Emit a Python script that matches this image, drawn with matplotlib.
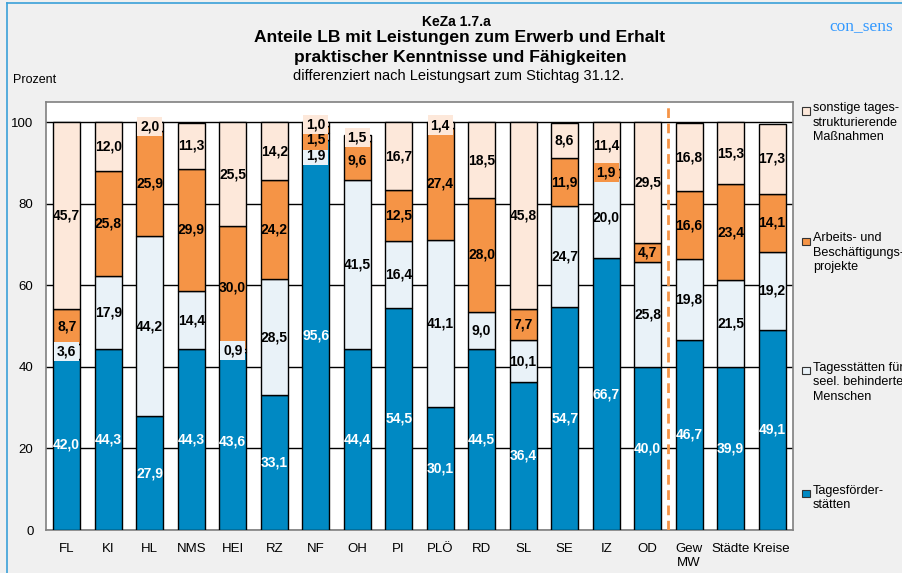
import matplotlib
matplotlib.use("Agg")
from matplotlib import pyplot as plt
from matplotlib.patches import Rectangle
from matplotlib.lines import Line2D

plt.rcParams['font.family'] = ['Liberation Sans', 'DejaVu Sans']

# Daten
kreise = ["FL", "KI", "HL", "NMS", "HEI", "RZ", "NF", "OH", "PI", "PLÖ",
          "RD", "SL", "SE", "IZ", "OD", "Gew\nMW", "Städte", "Kreise"]
tagesfoerder = [42.0, 44.3, 27.9, 44.3, 43.6, 33.1, 95.6, 44.4, 54.5, 30.1,
                44.5, 36.4, 54.7, 66.7, 40.0, 46.7, 39.9, 49.1]
tagesstaetten = [3.6, 17.9, 44.2, 14.4, 0.9, 28.5, 1.9, 41.5, 16.4, 41.1,
                 9.0, 10.1, 24.7, 20.0, 25.8, 19.8, 21.5, 19.2]
arbeit = [8.7, 25.8, 25.9, 29.9, 30.0, 24.2, 1.5, 9.6, 12.5, 27.4,
          28.0, 7.7, 11.9, 1.9, 4.7, 16.6, 23.4, 14.1]
sonstige = [45.7, 12.0, 2.0, 11.3, 25.5, 14.2, 1.0, 1.5, 16.7, 1.4,
            18.5, 45.8, 8.6, 11.4, 29.5, 16.8, 15.3, 17.3]

reihen = [tagesfoerder, tagesstaetten, arbeit, sonstige]
farben = ["#0089c3", "#e9f2f8", "#f59446", "#fde8da"]
textfarben = ["white", "black", "black", "black"]
legende = ["Tagesförder-\nstätten",
           "Tagesstätten für\nseel. behinderte\nMenschen",
           "Arbeits- und\nBeschäftigungs-\nprojekte",
           "sonstige tages-\nstrukturierende\nMaßnahmen"]

fig = plt.figure(figsize=(9.02, 5.73), dpi=100, facecolor="#f0f0f0")
ax = fig.add_axes([0.051, 0.075, 0.828, 0.747])
ax.set_facecolor("white")

x = list(range(len(kreise)))
unten = [0.0] * len(kreise)
mitten = []  # Position der Beschriftungen
for r, reihe in enumerate(reihen):
    ax.bar(x, reihe, bottom=unten, width=0.65, color=farben[r],
           edgecolor="black", linewidth=1.0, zorder=3)
    mitten.append([unten[i] + reihe[i] / 2 for i in x])
    unten = [unten[i] + reihe[i] for i in x]

# kleine Segmente: Beschriftungen von oben nach unten auseinanderschieben
for i in x:
    grenze = 200
    for r in range(3, -1, -1):
        y = min(mitten[r][i], grenze)
        mitten[r][i] = y
        grenze = y - 3.8

for r, reihe in enumerate(reihen):
    for i in x:
        box = None
        if reihe[i] < 4.5:
            box = dict(facecolor=farben[r], edgecolor="none", pad=2.0)
        ax.text(i, mitten[r][i], f"{reihe[i]:.1f}".replace(".", ","),
                ha="center", va="center", fontsize=10, fontweight="bold",
                color=textfarben[r], zorder=5, bbox=box)

# Trennlinie Kreise / Mittelwerte
ax.axvline(14.5, color="#f59446", linewidth=2, linestyle=(0, (3.5, 2)), zorder=4)

ax.set_xlim(-0.5, len(kreise) - 0.5)
ax.set_ylim(0, 105)
ax.set_yticks([0, 20, 40, 60, 80, 100])
ax.yaxis.grid(True, color="black", linewidth=1.0, zorder=0)
ax.set_axisbelow(True)
ax.set_xticks(x)
ax.set_xticklabels(kreise, fontsize=9.5, linespacing=1.3)
ax.tick_params(axis="both", length=0, pad=9, labelsize=9.5)
for s in ax.spines.values():
    s.set_color("#808080")
    s.set_linewidth(1.2)

# Titel
fig.text(0.506, 0.962, "KeZa 1.7.a", ha="center", va="center",
         fontsize=10, fontweight="bold")
fig.text(0.510, 0.934, "Anteile LB mit Leistungen zum Erwerb und Erhalt",
         ha="center", va="center", fontsize=12.6, fontweight="bold")
fig.text(0.510, 0.900, "praktischer Kenntnisse und Fähigkeiten",
         ha="center", va="center", fontsize=12.6, fontweight="bold")
fig.text(0.508, 0.868, "differenziert nach Leistungsart zum Stichtag 31.12.",
         ha="center", va="center", fontsize=10.5)
fig.text(0.014, 0.860, "Prozent", ha="left", va="center", fontsize=9)
fig.text(0.919, 0.955, "con_sens", ha="left", va="center", fontsize=12.5,
         color="#3399ff", family=["Liberation Serif", "DejaVu Serif"])

# Legende rechts
leg_y = [0.138, 0.353, 0.579, 0.806]
for r in range(4):
    fig.patches.append(Rectangle((0.889, leg_y[r] - 0.006), 0.0085, 0.0125,
                                 transform=fig.transFigure, facecolor=farben[r],
                                 edgecolor="#333333", linewidth=0.8))
    fig.text(0.901, leg_y[r] + 0.016, legende[r], ha="left", va="top",
             fontsize=9.1, linespacing=1.3)

# Rahmen
fig.add_artist(Line2D([0.008, 0.008], [0.0, 0.995], transform=fig.transFigure,
                      color="#3aa0d8", linewidth=1.2))
fig.add_artist(Line2D([0.008, 1.0], [0.995, 0.995], transform=fig.transFigure,
                      color="#3aa0d8", linewidth=1.2))

plt.savefig("out.png", dpi=100, facecolor=fig.get_facecolor())
